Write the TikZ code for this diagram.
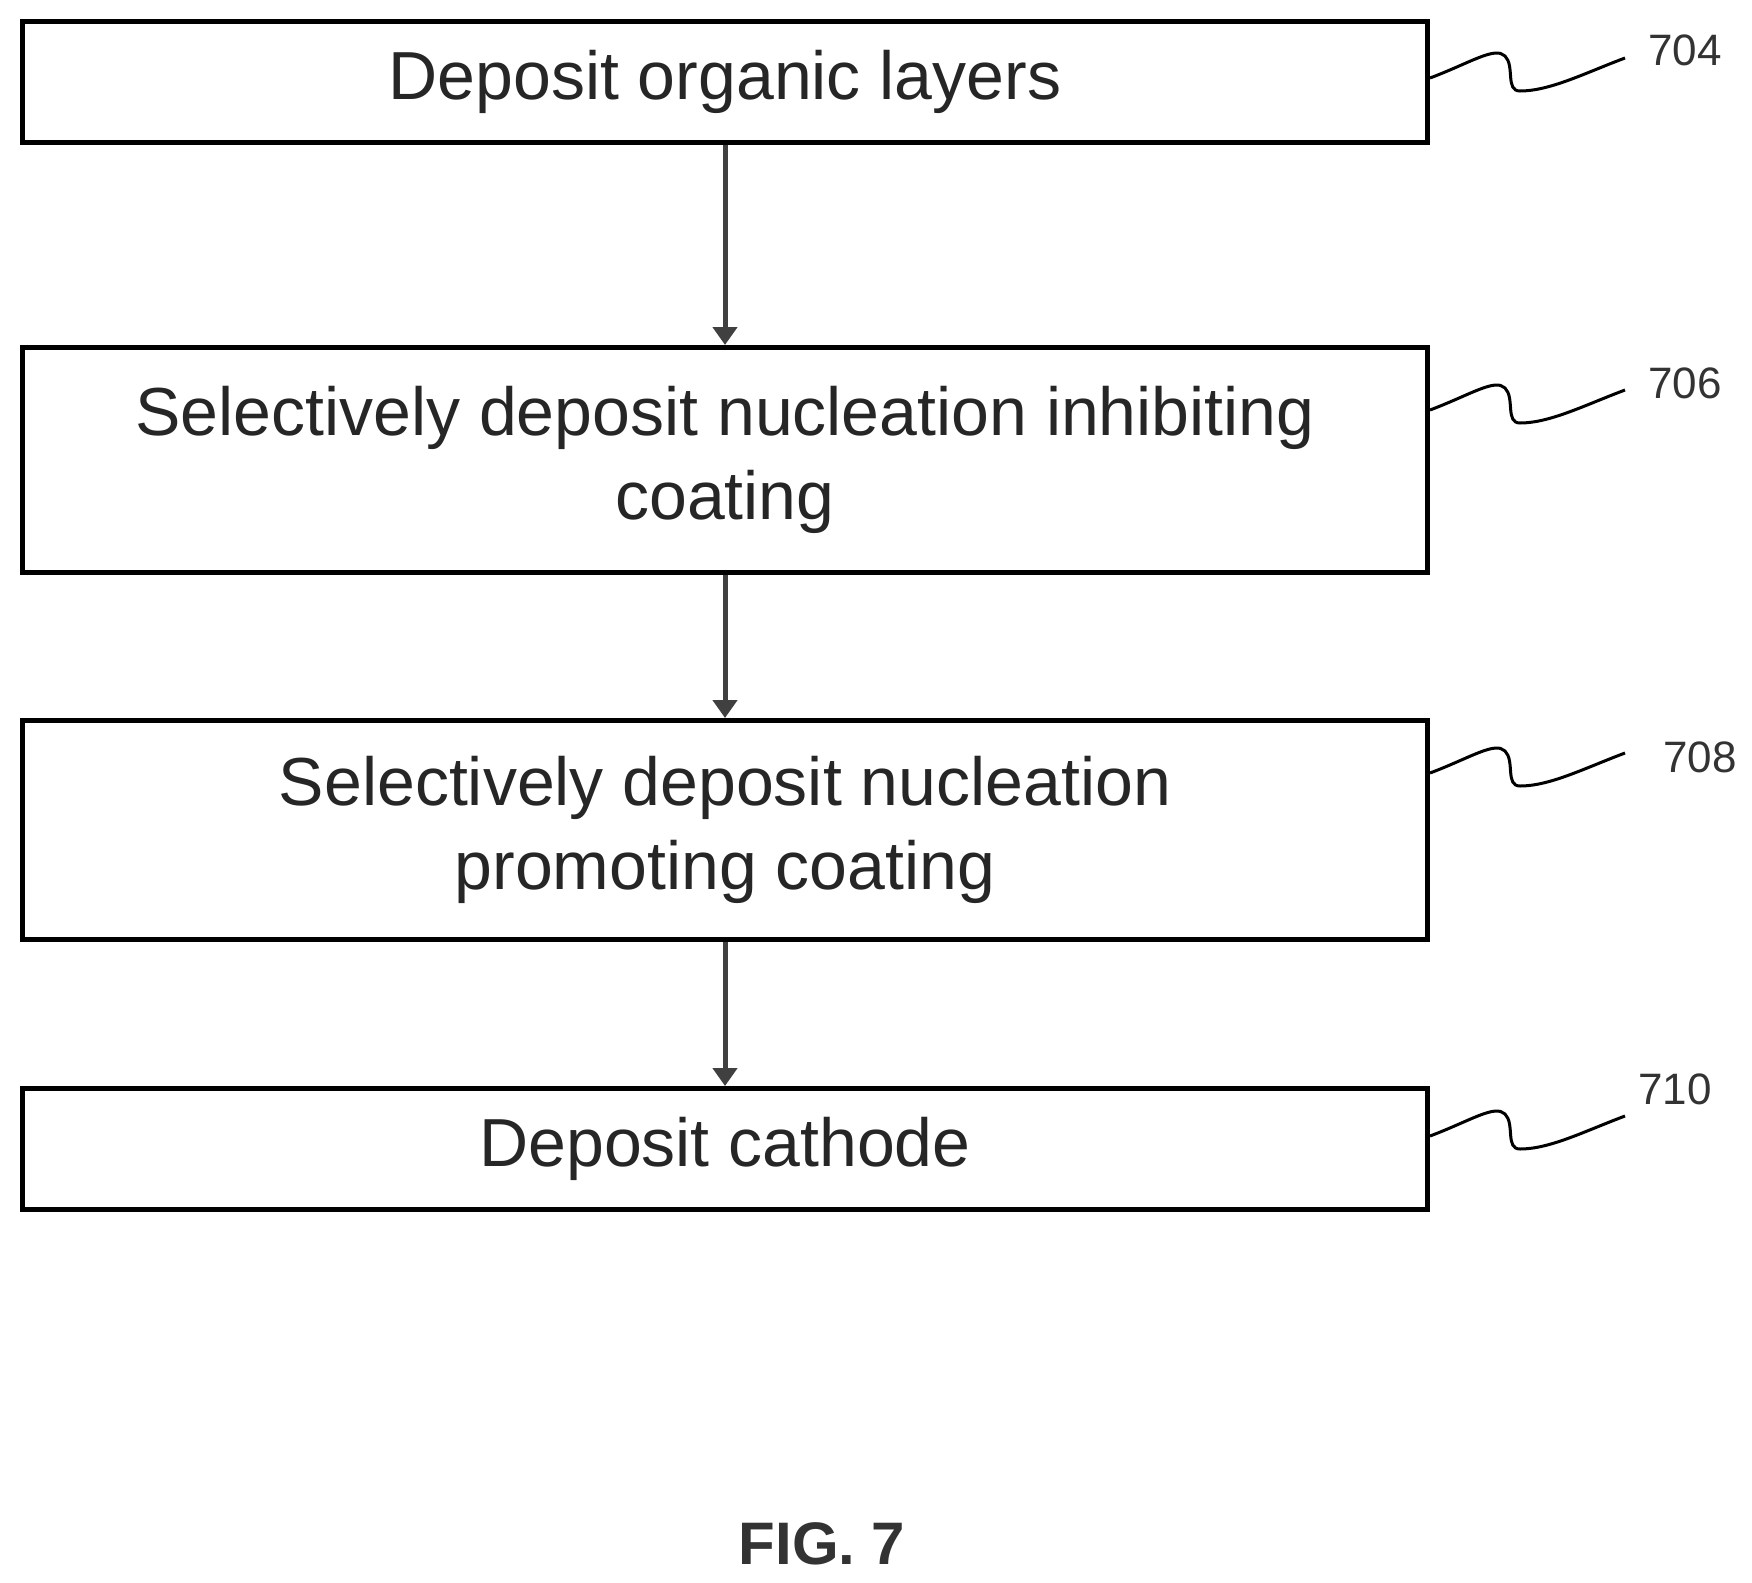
\documentclass[tikz,border=0pt]{standalone}
\usepackage{fontspec}
\setmainfont{Liberation Sans}
\usetikzlibrary{arrows.meta}
\begin{document}
\begin{tikzpicture}[x=1pt,y=-1pt,
 box/.style={draw,line width=5pt,minimum width=1405pt,inner sep=0pt,align=center,font=\fontsize{68}{84}\selectfont,text=black!85},
 arr/.style={draw=black!75,line width=5pt,-{Triangle[width=24pt,length=18pt]}},
 lead/.style={line width=3pt},
 lab/.style={font=\fontsize{44}{50}\selectfont,text=black!80}]
\useasboundingbox (0,0) rectangle (1752,1582);
\node[box,minimum height=121pt] (b1) at (725,82) {Deposit organic layers};
\node[box,minimum height=225pt] (b2) at (725,460) {Selectively deposit nucleation inhibiting\\coating};
\node[box,minimum height=219pt] (b3) at (725,830) {Selectively deposit nucleation\\promoting coating};
\node[box,minimum height=121pt] (b4) at (725,1149) {Deposit cathode};
\draw[arr] (b1) -- (b2);
\draw[arr] (b2) -- (b3);
\draw[arr] (b3) -- (b4);
\node[lab] (l1) at (1685,50) {704};
\node[lab] (l2) at (1685,383) {706};
\node[lab] (l3) at (1700,757) {708};
\node[lab] (l4) at (1675,1089) {710};
\foreach \b/\l/\dy in {b1/l1/78,b2/l2/410,b3/l3/773,b4/l4/1136}{
 \coordinate (s) at (1430,\dy);
 \draw[lead] (s) .. controls +(40,-15) and +(-10,-10) .. ++(75,-22)
   .. controls +(10,10) and +(-15,0) .. ++(15,35)
   .. controls +(30,0) and +(-40,15) .. ++(105,-33);
}
\node[font=\bfseries\fontsize{60}{70}\selectfont,text=black!80] (fig) at (822,1544) {FIG. 7};
\end{tikzpicture}
\end{document}
